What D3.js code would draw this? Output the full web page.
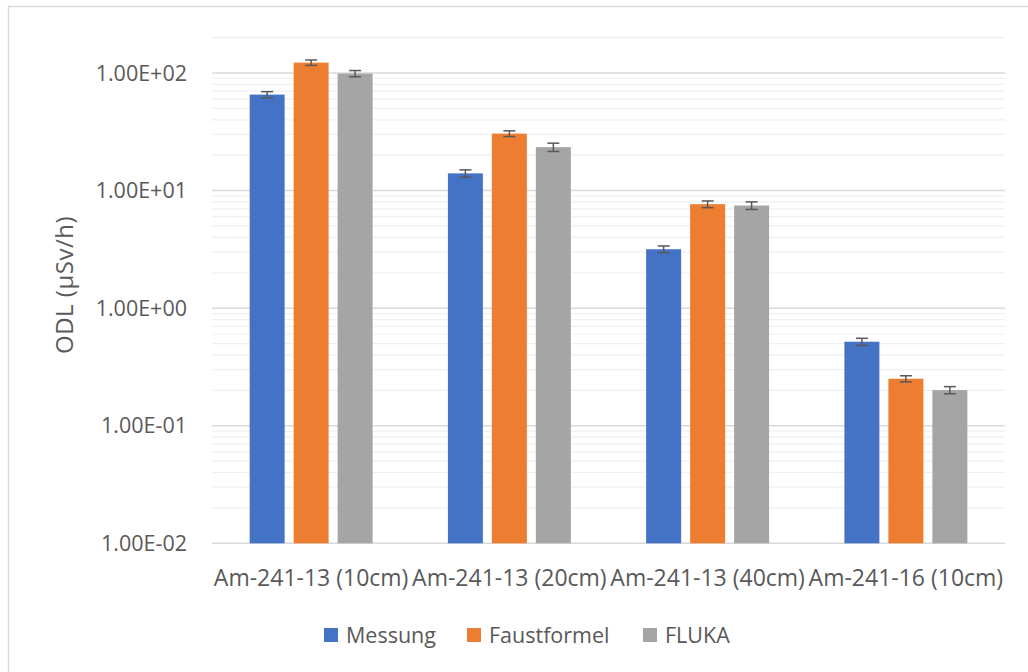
<!DOCTYPE html>
<html lang='en'>
<head>
<meta charset='utf-8'>
<script src='https://cdnjs.cloudflare.com/ajax/libs/d3/7.8.5/d3.min.js'></script>
<title>ODL</title>
<style>
body { margin:0; background:white; overflow:hidden; }
text { font-family:'Open Sans', sans-serif; fill:#595959; }
</style>
</head>
<body>
<script>
// data
var categories = ['Am-241-13 (10cm)', 'Am-241-13 (20cm)', 'Am-241-13 (40cm)', 'Am-241-16 (10cm)'];
var series = ['Messung', 'Faustformel', 'FLUKA'];
var colors = ['#4472C4', '#ED7D31', '#A5A5A5'];
var messung = [65.5, 14.0, 3.17, 0.518];
var faustformel = [122.5, 30.5, 7.66, 0.251];
var fluka = [98.9, 23.4, 7.46, 0.201];
var errMessung = [3.9, 1.0, 0.21, 0.036];
var errFaust = [6.5, 1.7, 0.5, 0.015];
var errFluka = [6.0, 1.9, 0.55, 0.014];
var tickValues = [0.01, 0.1, 1, 10, 100];
var tickLabels = ['1.00E-02', '1.00E-01', '1.00E+00', '1.00E+01', '1.00E+02'];

var values = [messung, faustformel, fluka];
var errors = [errMessung, errFaust, errFluka];

var W = 1028, H = 672;
var plotL = 212, plotR = 1005, plotT = 37.6, plotB = 543.3;

var svg = d3.select('body').append('svg').attr('width', W).attr('height', H);

svg.append('rect')
   .attr('x', 8.5).attr('y', 6.5).attr('width', 1100).attr('height', 800)
   .style('fill', 'none').style('stroke', '#d9d9d9').style('stroke-width', 1.5);

var y = d3.scaleLog().domain([0.01, 200]).range([plotB, plotT]);
var x0 = d3.scaleBand().domain(categories).range([plotL, plotR]).padding(0);
var x1 = d3.scaleBand().domain(series).range([0, x0.bandwidth()])
           .paddingInner(0.2045).paddingOuter(0.856);

// minor gridlines
var minor = [];
for (var e = -2; e <= 2; e++) {
   for (var m = 2; m <= 9; m++) {
      var v = m * Math.pow(10, e);
      if (v <= 200) minor.push(v);
   }
}
svg.append('g').selectAll('line')
   .data(minor)
   .enter()
   .append('line')
   .attr('x1', plotL).attr('x2', plotR)
   .attr('y1', function(d){return y(d);}).attr('y2', function(d){return y(d);})
   .style('stroke', '#f0f0f0').style('stroke-width', 1.2);

// major gridlines
svg.append('g').selectAll('line')
   .data(tickValues)
   .enter()
   .append('line')
   .attr('x1', plotL).attr('x2', plotR)
   .attr('y1', function(d){return y(d);}).attr('y2', function(d){return y(d);})
   .style('stroke', '#d9d9d9').style('stroke-width', 1.5);

// y tick labels
svg.append('g').selectAll('text')
   .data(tickValues)
   .enter()
   .append('text')
   .attr('x', 187)
   .attr('y', function(d){return y(d);})
   .attr('dy', '0.36em')
   .attr('text-anchor', 'end')
   .style('font-size', '21.5px')
   .text(function(d, i){return tickLabels[i];});

// bars
var bars = [];
series.forEach(function(s, si) {
   categories.forEach(function(c, ci) {
      bars.push({cat : c, ser : s, si : si, v : values[si][ci], err : errors[si][ci]});
   });
});

svg.append('g').selectAll('rect')
   .data(bars)
   .enter()
   .append('rect')
   .attr('x', function(d){return x0(d.cat) + x1(d.ser);})
   .attr('width', x1.bandwidth())
   .attr('y', function(d){return y(d.v);})
   .attr('height', function(d){return plotB - y(d.v);})
   .style('fill', function(d){return colors[d.si];});

// error bars
var eb = svg.append('g').selectAll('g')
   .data(bars)
   .enter()
   .append('g')
   .attr('transform', function(d){return 'translate(' + (x0(d.cat) + x1(d.ser) + x1.bandwidth() / 2) + ',0)';});
eb.append('line')
   .attr('x1', 0).attr('x2', 0)
   .attr('y1', function(d){return y(d.v + d.err);}).attr('y2', function(d){return y(d.v - d.err);})
   .style('stroke', '#595959').style('stroke-width', 1.5);
eb.append('line')
   .attr('x1', -6).attr('x2', 6)
   .attr('y1', function(d){return y(d.v + d.err);}).attr('y2', function(d){return y(d.v + d.err);})
   .style('stroke', '#595959').style('stroke-width', 1.5);
eb.append('line')
   .attr('x1', -6).attr('x2', 6)
   .attr('y1', function(d){return y(d.v - d.err);}).attr('y2', function(d){return y(d.v - d.err);})
   .style('stroke', '#595959').style('stroke-width', 1.5);

// category labels
svg.append('g').selectAll('text')
   .data(categories)
   .enter()
   .append('text')
   .attr('x', function(d){return x0(d) + x0.bandwidth() / 2;})
   .attr('y', 586)
   .attr('text-anchor', 'middle')
   .style('font-size', '23px')
   .text(function(d){return d;});

// y axis title
svg.append('text')
   .attr('transform', 'translate(73,285) rotate(-90)')
   .attr('text-anchor', 'middle')
   .style('font-size', '24px')
   .style('letter-spacing', '0.5px')
   .text('ODL (\u00b5Sv/h)');

// legend
var legX = [324, 467, 643];
var leg = svg.append('g').selectAll('g')
   .data(series)
   .enter()
   .append('g')
   .attr('transform', function(d, i){return 'translate(' + legX[i] + ',628)';});
leg.append('rect')
   .attr('width', 14).attr('height', 14)
   .style('fill', function(d, i){return colors[i];});
leg.append('text')
   .attr('x', 22).attr('y', 7).attr('dy', '0.36em')
   .style('font-size', '21.5px')
   .text(function(d){return d;});
</script>
</body>
</html>
